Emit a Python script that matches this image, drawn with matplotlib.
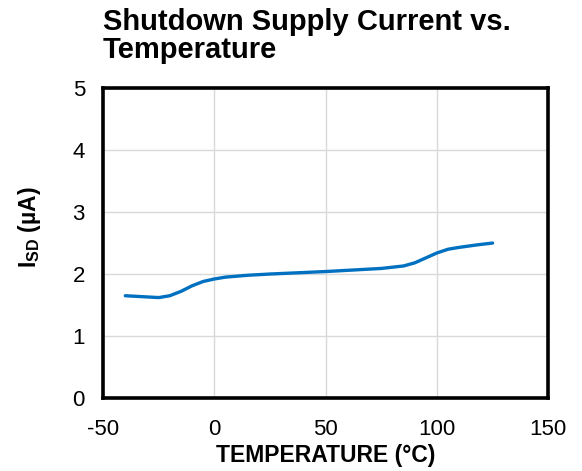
import matplotlib
matplotlib.use('Agg')
import matplotlib.pyplot as plt

plt.rcParams['font.family'] = ['Liberation Sans', 'DejaVu Sans']
plt.rcParams['mathtext.fontset'] = 'custom'
plt.rcParams['mathtext.rm'] = 'Liberation Sans'
plt.rcParams['mathtext.bf'] = 'Liberation Sans:bold'
plt.rcParams['axes.unicode_minus'] = False

temp = [-40, -35, -30, -25, -20, -15, -10, -5, 0, 5, 15, 25, 50, 75, 85, 90, 95, 100, 105, 110, 118, 125]
isd = [1.65, 1.64, 1.63, 1.62, 1.65, 1.72, 1.81, 1.88, 1.92, 1.95, 1.98, 2.00, 2.04, 2.09, 2.13, 2.18, 2.26, 2.34, 2.40, 2.43, 2.47, 2.50]
xticks = [-50, 0, 50, 100, 150]
yticks = [0, 1, 2, 3, 4, 5]

fig = plt.figure(figsize=(5.82, 4.71), dpi=100)
ax = fig.add_axes([0.177, 0.155, 0.765, 0.658])

ax.plot(temp, isd, color='#0070C0', linewidth=2.4, solid_capstyle='round')

ax.set_xlim(-50, 150)
ax.set_ylim(0, 5)
ax.set_xticks(xticks)
ax.set_yticks(yticks)
ax.tick_params(length=0, labelsize=16)
ax.tick_params(axis='x', pad=15)
ax.tick_params(axis='y', pad=13)
ax.grid(color='#d9d9d9', linewidth=1)
ax.set_axisbelow(True)
for s in ax.spines.values():
    s.set_linewidth(2.6)
    s.set_color('black')

ax.set_xlabel('TEMPERATURE (°C)', fontsize=16.5, fontweight='bold', labelpad=3)
ax.set_ylabel(r'$\mathbf{I}_{\mathbf{SD}}$ (µA)', fontsize=16.5, fontweight='bold')
ax.yaxis.set_label_coords(-0.135, 0.55)

fig.text(0.177, 0.984, 'Shutdown Supply Current vs.\nTemperature', fontsize=21,
         fontweight='bold', ha='left', va='top', linespacing=1.0)

fig.savefig('out.png', dpi=100)
